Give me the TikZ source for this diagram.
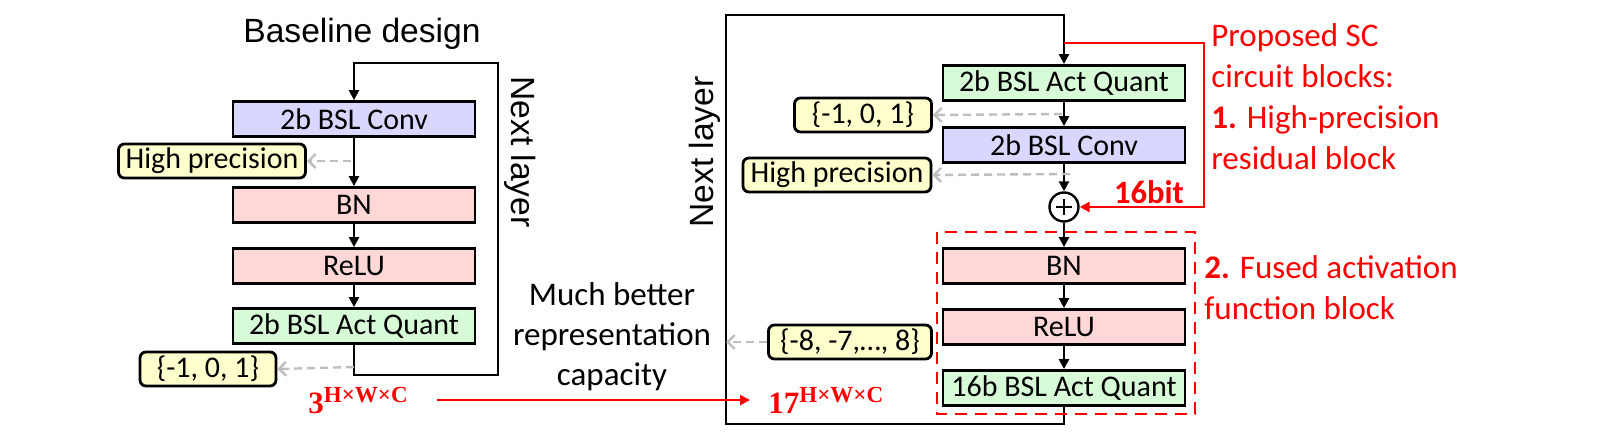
\documentclass[tikz,border=0pt]{standalone}
\usepackage[no-math]{fontspec}
\setmainfont{Carlito}
\newfontfamily\arialfont{Liberation Sans}
\newfontfamily\powfont{Liberation Serif}
\usepackage{tikz}
\usetikzlibrary{positioning, arrows.meta, calc}

\definecolor{convblue}{RGB}{215,215,255}
\definecolor{nnpink}{RGB}{255,215,215}
\definecolor{quantgreen}{RGB}{215,250,215}
\definecolor{valyellow}{RGB}{255,255,205}
\definecolor{hintgray}{RGB}{190,190,190}
\definecolor{scred}{RGB}{255,0,0}

% base with a bold H x W x C exponent
\newcommand{\powlabel}[1]{{\fontsize{15.5}{18}\selectfont #1}\raisebox{5.5pt}{\fontsize{11.5}{14}\selectfont H×W×C}}

\tikzset{
    layer/.style={draw, line width=1.4pt, minimum height=17.5pt, minimum width=121pt,
        inner sep=0pt, font=\fontsize{15}{18}\selectfont},
    valbox/.style={draw, line width=1.4pt, rounded corners=3pt, fill=valyellow,
        minimum height=17pt, inner sep=0pt, font=\fontsize{15}{18}\selectfont},
    flow/.style={line width=1.2pt, -{Triangle[length=5pt, width=5pt]}},
    hint/.style={hintgray, dash pattern=on 4pt off 2.5pt, line width=1.2pt,
        -{Straight Barb[length=3.5pt, width=7pt]}},
    redflow/.style={scred, line width=1.4pt, -{Triangle[length=5pt, width=5pt]}},
    count/.style={text=scred, anchor=base west, inner sep=0pt, font=\powfont\bfseries},
    note/.style={text=scred, align=left, font=\fontsize{16.5}{20.6}\selectfont},
}

\begin{document}
\begin{tikzpicture}[x=0.5pt, y=-0.5pt]
    \useasboundingbox (0,0) rectangle (1614,445);

    % baseline design
    \node[font=\arialfont\fontsize{16.8}{20}\selectfont] (title) at (362,34) {Baseline design};
    \node[layer, fill=convblue] (lconv) at (354,119) {2b BSL Conv};
    \node[layer, fill=nnpink] (lbn) at (354,205) {BN};
    \node[layer, fill=nnpink] (lrelu) at (354,266) {ReLU};
    \node[layer, fill=quantgreen] (lquant) at (354,326) {2b BSL Act Quant};
    \node[valbox, minimum width=93.5pt] (lhp) at (212,161) {High precision};
    \node[valbox, minimum width=68pt] (lval) at (208,369) {\{-1, 0, 1\}};
    \node[rotate=-90, font=\arialfont\fontsize{16.8}{20}\selectfont] (lnext) at (520,152) {Next layer};
    \node[count] (lcount) at (308,413) {\powlabel{3}};

    \coordinate (lhptap) at (351,161);
    \coordinate (lvaltap) at (354,367);

    \draw[flow] (lconv) -- (lbn);
    \draw[flow] (lbn) -- (lrelu);
    \draw[flow] (lrelu) -- (lquant);
    \draw[flow] (lquant.south) |- (498,375) -- (498,63) -| (lconv.north);
    \draw[hint] (lhptap) -- (lhp.east);
    \draw[hint] (lvaltap) -- (lval.east);

    % middle
    \node[align=center, font=\fontsize{16.5}{20}\selectfont] (much) at (612,337)
        {Much better\\representation\\capacity};

    % proposed design
    \node[layer, fill=quantgreen] (rquant) at (1064,83) {2b BSL Act Quant};
    \node[layer, fill=convblue] (rconv) at (1064,145) {2b BSL Conv};
    \node[draw, circle, line width=1.2pt, minimum size=14.5pt, inner sep=0pt] (plus) at (1064,207) {};
    \draw[line width=0.7pt] ($(plus.center)+(-8,0)$) -- ($(plus.center)+(8,0)$)
        ($(plus.center)+(0,-8)$) -- ($(plus.center)+(0,8)$);
    \node[layer, fill=nnpink] (rbn) at (1064,266) {BN};
    \node[layer, fill=nnpink] (rrelu) at (1064,327) {ReLU};
    \node[layer, fill=quantgreen] (rquant16) at (1064,388) {16b BSL Act Quant};

    \node[valbox, minimum width=68.5pt] (rval) at (863,115) {\{-1, 0, 1\}};
    \node[valbox, minimum width=94pt] (rhp) at (837,175) {High precision};
    \node[valbox, minimum width=81.5pt] (rval16) at (850,342) {\{-8, -7,…, 8\}};
    \node[rotate=90, font=\arialfont\fontsize{16.8}{20}\selectfont] (rnext) at (705,152) {Next layer};
    \node[count] (rcount) at (768,413) {\powlabel{17}};

    \coordinate (rtap) at (1064,43);
    \coordinate (rvaltap) at (1062,114);
    \coordinate (rhptap) at (1070,174);
    \coordinate (bigleft) at (726,342);

    \draw[flow] (rquant) -- (rconv);
    \draw[flow] (rconv) -- (plus);
    \draw[flow] (plus) -- (rbn);
    \draw[flow] (rbn) -- (rrelu);
    \draw[flow] (rrelu) -- (rquant16);
    \draw[flow] (rquant16.south) |- (726,424) -- (726,15) -| (rquant.north);
    \draw[hint] (rvaltap) -- (rval.east);
    \draw[hint] (rhptap) -- (rhp.east);
    \draw[hint] (rval16.west) -- (bigleft);

    % residual path and fused block
    \draw[redflow] (rtap) -| (1204,207) -- (plus.east);
    \node[text=scred, font=\fontsize{16.3}{18}\selectfont\bfseries] (bits) at (1149,192) {16bit};
    \draw[scred, line width=1.4pt, dash pattern=on 6pt off 4pt] (937,232) rectangle (1195,414);

    \node[note, anchor=north west, inner sep=0pt] (proposed) at (1211,23)
        {Proposed SC\\circuit blocks:\\\textbf{1.} High-precision\\residual block};
    \node[note, anchor=north west, inner sep=0pt] (fused) at (1204,255)
        {\textbf{2.} Fused activation\\function block};

    \draw[redflow, shorten <=14.5pt, shorten >=9pt] (lcount.east) -- (lcount.east -| rcount.west);
\end{tikzpicture}
\end{document}
